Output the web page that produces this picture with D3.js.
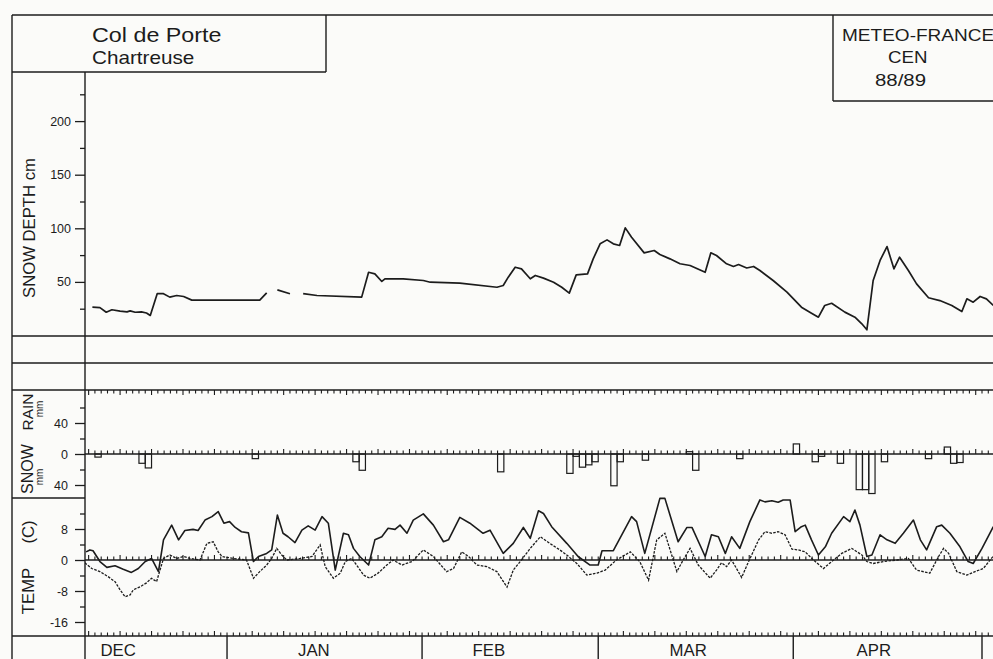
<!DOCTYPE html>
<html><head><meta charset="utf-8">
<script src="https://cdn.jsdelivr.net/npm/d3@7"></script>
<style>
html,body{margin:0;padding:0;background:#fbfbf9;}
svg{display:block;font-family:"Liberation Sans",Arial,Helvetica,sans-serif;}
</style></head><body>
<svg id="chart" width="993" height="659"></svg>
<script>
// ---- DATA (day = days since 1 Dec 1988) ----
const monthNames = ["DEC","JAN","FEB","MAR","APR"];
const monthEndDay = [31, 62, 90, 121, 151];
const monthLabelDay = [13.7, 44.8, 72.6, 104.3, 133.8];

const depthTicks = [25,50,75,100,125,150,175,200,225];
const depthLabels = [50,100,150,200];
const precTicks = [-40,-20,0,20,40,60];
const precLabels = [-40,0,40];
const tempTicks = [-16,-12,-8,-4,0,4,8,12];
const tempLabels = [-16,-8,0,8];

const depthDay = [9.6,10.8,11.8,12.7,14.0,15.1,15.6,16.4,17.4,18.2,
  18.8,19.9,20.9,21.9,23.0,24.1,25.4,36.2,37.3,38.2,
  39.0,41.0,42.0,43.1,45.3,52.4,53.5,54.5,55.6,56.1,
  59.0,62.2,63.3,68.0,73.9,74.9,75.7,76.8,77.8,79.2,
  80.0,81.3,82.9,84.2,85.4,86.5,88.3,89.2,90.3,91.4,
  92.4,93.4,94.3,95.3,97.3,98.9,99.8,101.4,103.0,104.6,
  107.0,107.9,108.8,110.4,111.5,112.3,113.6,114.7,115.7,117.8,
  120.0,122.3,123.9,125.0,126.0,127.1,129.2,130.8,131.9,132.7,
  133.7,134.8,135.9,137.0,137.9,139.3,140.6,142.5,144.3,146.2,
  147.8,148.6,149.6,150.7,151.7,152.8];
const depthCm = [26.4,26,21.7,24,22.7,22,23,21.7,22,21,
  18.7,39,39,35.8,37.3,36.4,33,33,39.8,null,
  42.6,39,null,39,37.3,35.8,59,57.5,50.4,52.9,
  52.9,51.3,49.7,48.8,45,46.6,54.4,63.7,62.2,52.9,
  56,53.5,49.7,45,39.5,56.6,57.5,71.5,85.5,89.2,
  85.5,84,100.4,91.7,77.1,79.3,75.6,71.5,66.9,65.3,
  59,77.1,74.6,66.9,64.4,66.2,63,64.4,60.6,51.3,
  40.4,26.4,20.8,17.1,28,30.1,21.8,17.1,10.9,5.3,
  51.3,70,83,62.2,73,60.6,48.2,35.2,32.6,28,
  22.4,34.2,31.1,36.4,34.2,28];

const snowDay = [10,17,18,35,51,52,74,85,86,87,88,89,92,93,97,105,112,124,125,128,131,132,133,135,142,146,147];
const snowMM  = [4,12,18,6,10,21,23,25,3,17,14,10,41,10,8,21,6,10,3,12,46,46,51,10,6,12,11];
const rainDay = [104,121,145];
const rainMM  = [3,13,9];

const tmaxDay = [8.6,9.2,9.7,10.8,11.9,13.2,14.5,15.8,16.9,18.0,
  19.0,20.1,20.9,22.2,23.3,24.3,25.6,26.4,27.5,28.6,
  29.6,30.5,31.4,32.3,33.3,34.4,35.2,36.0,37.3,38.1,
  39.0,39.9,40.7,41.8,42.9,43.9,45.0,46.1,47.1,48.2,
  49.5,50.3,51.1,52.1,53.5,54.5,55.6,56.6,57.7,58.5,
  59.6,60.6,62.2,63.8,65.4,66.2,68.0,69.6,71.7,72.8,
  74.9,76.5,78.1,79.2,80.5,81.3,82.6,85.0,86.8,88.7,
  90.0,90.6,92.4,95.3,96.1,97.4,99.8,100.6,102.7,104.1,
  104.9,107.0,108.0,109.1,110.2,111.2,112.5,114.1,115.7,116.5,
  117.6,118.6,119.4,120.5,121.3,122.3,122.9,123.9,125.0,126.1,
  127.1,129.0,130.0,130.8,131.6,132.7,133.5,134.8,135.9,137.2,
  138.5,140.1,141.2,142.2,143.8,144.6,145.9,147.5,148.8,149.6,
  151.0,152.8];
const tmax = [2.1,2.6,2.4,-0.4,-1.9,-1.5,-2.4,-3.2,-2.2,-0.4,
  0.4,-3.0,5.2,9.0,5.2,7.6,7.9,7.6,10.3,11.2,
  12.5,9.5,9.9,8.4,7.3,7.0,-0.4,0.9,1.7,2.6,
  11.6,6.9,6.0,4.5,7.7,8.8,7.7,11.2,9.5,-2.6,
  6.9,6.5,3.0,0.9,-1.3,5.2,6.0,8.2,7.9,9.0,
  6.9,10.3,11.9,9.0,4.7,5.2,11.0,9.5,6.9,7.7,
  1.7,4.3,8.4,5.6,12.7,12.0,8.6,4.3,0.9,-1.3,
  -1.3,2.4,2.4,11.2,9.9,1.7,15.9,15.9,4.7,8.4,
  8.4,0.9,6.5,6.0,1.7,6.0,3.0,9.9,15.5,15.0,
  15.3,14.9,15.5,15.5,7.3,8.6,9.0,5.2,1.3,3.4,
  6.9,11.2,9.9,12.9,9.0,0.9,1.3,6.5,5.2,4.3,
  6.9,10.3,5.2,2.6,8.6,9.0,6.9,3.4,-0.4,-0.9,
  3.0,8.6];

const tminDay = [8.4,9.5,10.8,12.1,13.2,14.0,14.8,15.6,16.1,17.2,
  18.2,19.0,19.8,20.9,21.9,23.0,24.1,25.1,26.7,27.8,
  28.8,29.6,30.2,32.0,34.1,35.2,36.2,37.3,38.1,38.9,
  39.7,40.5,42.6,44.5,45.8,46.6,47.9,49.0,49.8,50.8,
  51.6,52.7,53.7,55.0,56.4,57.4,58.8,60.4,62.2,63.8,
  65.9,67.0,68.3,69.4,70.7,72.3,73.9,75.5,76.5,77.6,
  79.2,80.8,82.3,83.9,85.0,86.6,88.2,89.8,91.1,92.9,
  95.1,96.6,98.0,99.3,100.6,102.5,103.5,104.6,105.9,107.8,
  108.8,109.6,110.4,111.2,112.8,113.9,115.5,116.5,117.6,118.6,
  119.7,120.8,121.8,122.9,124.2,125.8,127.1,128.7,130.3,131.9,
  132.7,133.7,135.3,137.5,139.3,140.6,142.7,144.1,144.9,145.7,
  147.0,148.6,149.9,151.2,152.8];
const tmin = [-0.7,-2.2,-3.0,-4.3,-5.6,-7.7,-9.5,-9.0,-7.7,-6.9,
  -5.9,-4.7,-5.6,0.4,1.3,0.4,0.9,0.4,0,4.3,
  4.7,2.1,0.9,0.4,0,-4.7,-3.0,-1.3,0.4,3.0,
  1.3,0,0.4,0.9,3.9,-1.7,-4.7,-3.4,-0.4,0.4,
  -1.3,-3.9,-4.7,-3.4,-1.3,0,-1.3,-0.4,2.6,0.9,
  -3.0,-2.2,2.1,0.9,-1.3,-1.7,-3.0,-7.0,-2.6,-0.4,
  3.0,6.0,4.3,2.6,1.3,-0.9,-3.9,-3.4,-2.6,0,
  2.1,-0.4,-5.2,5.2,6.9,-3.0,0,3.0,-1.3,-4.7,
  -2.6,-0.7,-1.7,0,-4.5,-0.4,5.2,7.3,6.9,7.3,
  6.5,2.8,2.6,2.1,0,-2.2,-0.4,1.7,3.0,1.3,
  -0.4,-0.9,-0.4,0,0.4,-2.6,-3.4,0.9,3.0,1.7,
  -3.0,-3.9,-3.0,-2.2,1.0];

// ---- LAYOUT ----
const ink = "#1c1c1c";
const svg = d3.select("#chart");
svg.append("rect").attr("width",993).attr("height",659).attr("fill","#fbfbf9");

const x = d3.scaleLinear().domain([0,151]).range([32,982]);
const yDepth = d3.scaleLinear().domain([0,250]).range([335.5,67.5]);
const yPrec = d3.scaleLinear().domain([-40,40]).range([485,423]);
const yTemp = d3.scaleLinear().domain([-16,8]).range([622,529]);

const L = 12, AX = 85, R = 993;
const frame = svg.append("g").attr("stroke",ink).attr("stroke-width",1.4).attr("fill","none");
function hl(y,x1,x2){frame.append("line").attr("x1",x1).attr("x2",x2).attr("y1",y).attr("y2",y);}
function vl(xv,y1,y2){frame.append("line").attr("x1",xv).attr("x2",xv).attr("y1",y1).attr("y2",y2);}
hl(15,L,R); vl(L,15,659);
vl(326,15,72); hl(72,L,326);
vl(AX,72,659);
[336,363,390,636].forEach(y=>hl(y,L,R));
hl(498,L,AX);
vl(833,15,101); hl(101,833,R);
monthEndDay.forEach(d=>vl(x(d),636,659));

// clip for plot area
svg.append("clipPath").attr("id","plot").append("rect").attr("x",AX).attr("y",60).attr("width",R-AX).attr("height",580);
const plot = svg.append("g").attr("clip-path","url(#plot)");

// daily tick rows
const firstDay = Math.ceil(x.invert(AX)), lastDay = Math.floor(x.invert(R));
const days = d3.range(firstDay, lastDay+1);
const base = new Date(1988,11,1);
const isLong = d => d3.timeDay.offset(base,d).getDate() % 5 === 0;
function tickRow(y, dir){
  plot.append("g").attr("stroke",ink).attr("stroke-width",1.1)
    .selectAll("line").data(days).join("line")
    .attr("x1",d=>x(d)).attr("x2",d=>x(d))
    .attr("y1",y).attr("y2",d=>y+dir*(isLong(d)?5:3.5));
}
tickRow(390, 1);
tickRow(yPrec(0), -1);
tickRow(yTemp(0), -1);
tickRow(636, -1);

// zero lines
plot.append("line").attr("x1",AX).attr("x2",R).attr("y1",yPrec(0)).attr("y2",yPrec(0)).attr("stroke",ink).attr("stroke-width",1.4);
plot.append("line").attr("x1",AX).attr("x2",R).attr("y1",yTemp(0)).attr("y2",yTemp(0)).attr("stroke",ink).attr("stroke-width",1.6);

// axes
function axis(scale, ticks, labels, fmt, pad){
  const g1 = svg.append("g").attr("transform",`translate(${AX},0)`)
    .call(d3.axisLeft(scale).tickValues(ticks.filter(t=>!labels.includes(t))).tickSize(5).tickFormat(""));
  const g2 = svg.append("g").attr("transform",`translate(${AX},0)`)
    .call(d3.axisLeft(scale).tickValues(labels).tickSize(10).tickPadding(pad).tickFormat(fmt));
  [g1,g2].forEach(g=>{
    g.select(".domain").remove();
    g.selectAll("line").attr("stroke",ink).attr("stroke-width",1.3);
    g.selectAll("text").attr("fill",ink).attr("font-size",12.5).attr("font-family","Liberation Sans, Arial, sans-serif");
  });
}
axis(yDepth, depthTicks, depthLabels, d=>d, 4);
axis(yPrec, precTicks, precLabels, d=>Math.abs(d), 7);
axis(yTemp, tempTicks, tempLabels, d=>d, 7);

// precipitation bars
const prec = plot.append("g").attr("stroke",ink).attr("stroke-width",1.2).attr("fill","none");
snowDay.forEach((d,i)=>prec.append("rect").attr("x",x(d)).attr("width",x(d+1)-x(d))
  .attr("y",yPrec(0)).attr("height",yPrec(-snowMM[i])-yPrec(0)));
rainDay.forEach((d,i)=>prec.append("rect").attr("x",x(d)).attr("width",x(d+1)-x(d))
  .attr("y",yPrec(rainMM[i])).attr("height",yPrec(0)-yPrec(rainMM[i])));

// snow depth line
const depthData = depthDay.map((d,i)=>({d, v:depthCm[i]}));
plot.append("path").datum(depthData)
  .attr("d", d3.line().defined(p=>p.v!==null).x(p=>x(p.d)).y(p=>yDepth(p.v)))
  .attr("fill","none").attr("stroke",ink).attr("stroke-width",1.7).attr("stroke-linejoin","round");

// temperatures
const tmaxData = tmaxDay.map((d,i)=>({d, v:tmax[i]}));
const tminData = tminDay.map((d,i)=>({d, v:tmin[i]}));
const tLine = d3.line().x(p=>x(p.d)).y(p=>yTemp(p.v));
plot.append("path").datum(tminData).attr("d",tLine).attr("fill","none")
  .attr("stroke",ink).attr("stroke-width",1.3).attr("stroke-dasharray","2.6,1.3");
plot.append("path").datum(tmaxData).attr("d",tLine).attr("fill","none")
  .attr("stroke",ink).attr("stroke-width",1.6).attr("stroke-linejoin","round");

// texts
function stext(str, tx, ty, size, sx, anchor){
  svg.append("text").attr("transform",`translate(${tx},${ty}) scale(${sx},1)`)
    .attr("font-size",size).attr("fill",ink).attr("text-anchor",anchor||"start").text(str);
}
stext("Col de Porte", 92, 42, 21, 1.11);
stext("Chartreuse", 92, 64, 18, 1.15);
stext("METEO-FRANCE", 842, 41, 17, 1.12);
stext("CEN", 888, 63, 17, 1.1);
stext("88/89", 875, 86, 17, 1.2);
monthNames.forEach((m,i)=>stext(m, x(monthLabelDay[i]), 655.5, 16, 1.05, "middle"));

function vtext(str, bx, cy, size){
  svg.append("text").attr("transform",`translate(${bx},${cy}) rotate(-90)`)
    .attr("font-size",size).attr("fill",ink).attr("text-anchor","middle").text(str);
}
vtext("SNOW DEPTH cm", 35, 228, 16.7);
vtext("RAIN", 33, 412, 15.5);
vtext("mm", 43, 409, 10);
vtext("SNOW", 33, 469, 16);
vtext("mm", 43, 477, 10);
vtext("TEMP", 34, 591, 16.7);
vtext("(C)", 34, 532, 16.7);
</script>
</body></html>
